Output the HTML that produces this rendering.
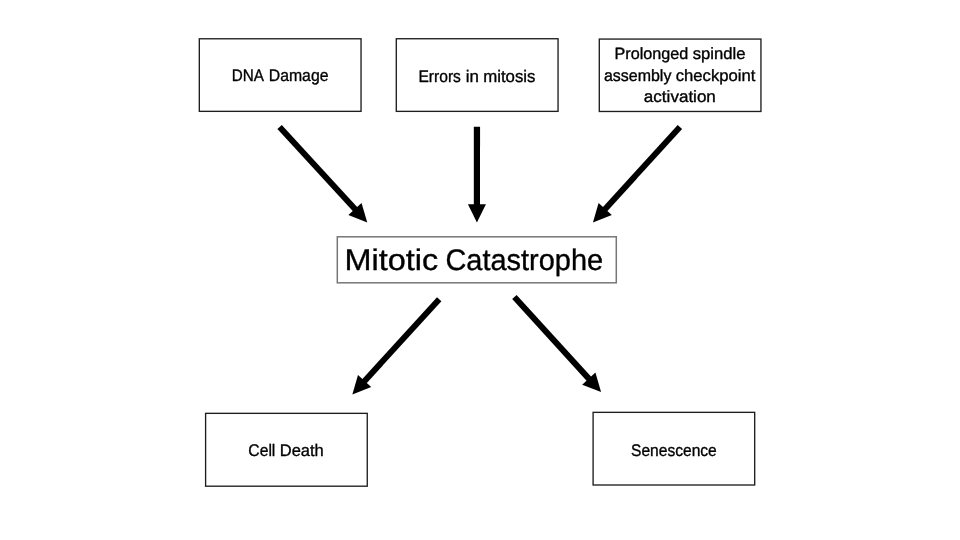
<!DOCTYPE html>
<html><head><meta charset="utf-8"><style>
html,body{margin:0;padding:0;background:#fff;width:960px;height:540px;overflow:hidden}
svg{display:block}
text{font-family:"Liberation Sans",sans-serif;fill:#000;stroke:#000;stroke-width:0.35px;text-rendering:geometricPrecision}
svg{will-change:transform}
</style></head><body>
<svg width="960" height="540" viewBox="0 0 960 540">
<rect x="199.31" y="38.78" width="161.73000000000002" height="72.57" fill="none" stroke="#1e1e1e" stroke-width="1.35"/>
<rect x="396.3" y="38.74" width="161.74999999999994" height="72.63" fill="none" stroke="#1e1e1e" stroke-width="1.35"/>
<rect x="599.3" y="39.07" width="161.6500000000001" height="72.4" fill="none" stroke="#1e1e1e" stroke-width="1.35"/>
<rect x="337.3" y="236.8" width="278.99999999999994" height="46.0" fill="none" stroke="#777" stroke-width="1.5"/>
<rect x="205.6" y="413.35" width="161.66" height="72.84999999999997" fill="none" stroke="#1e1e1e" stroke-width="1.35"/>
<rect x="593.1" y="412.35" width="161.59000000000003" height="72.64999999999998" fill="none" stroke="#1e1e1e" stroke-width="1.35"/>
<polygon points="277.39,129.03 353.42,211.76 357.84,207.70 281.81,124.97" fill="#000"/><polygon points="367.27,222.39 348.36,215.05 361.54,202.93" fill="#000"/>
<polygon points="473.84,126.80 473.82,205.20 480.02,205.20 480.04,126.80" fill="#000"/><polygon points="476.92,222.50 467.92,204.20 485.92,204.20" fill="#000"/>
<polygon points="677.68,124.98 602.30,207.67 606.73,211.71 682.12,129.02" fill="#000"/><polygon points="592.93,222.40 598.58,202.92 611.81,214.98" fill="#000"/>
<polygon points="436.99,297.28 361.72,379.68 366.15,383.72 441.41,301.32" fill="#000"/><polygon points="352.33,394.40 358.00,374.93 371.21,387.00" fill="#000"/>
<polygon points="512.18,299.12 587.26,381.42 591.69,377.37 516.62,295.08" fill="#000"/><polygon points="601.07,392.10 582.19,384.69 595.42,372.62" fill="#000"/>
<text transform="translate(247.83 81) scale(0.9083 1)" text-anchor="middle" font-size="16.8">DNA</text>
<text transform="translate(298.62 81) scale(0.9413 1)" text-anchor="middle" font-size="16.8">Damage</text>
<text transform="translate(439.67 82) scale(0.9291 1)" text-anchor="middle" font-size="16.8">Errors</text>
<text transform="translate(472.39 82) scale(1.0073 1)" text-anchor="middle" font-size="16.8">in</text>
<text transform="translate(509.3 82) scale(1.0017 1)" text-anchor="middle" font-size="16.8">mitosis</text>
<text transform="translate(651.43 59) scale(0.9929 1)" text-anchor="middle" font-size="16.3">Prolonged</text>
<text transform="translate(719.02 59) scale(1.0225 1)" text-anchor="middle" font-size="16.3">spindle</text>
<text transform="translate(637.7 81) scale(0.9801 1)" text-anchor="middle" font-size="16.3">assembly</text>
<text transform="translate(715.57 81) scale(1.0223 1)" text-anchor="middle" font-size="16.3">checkpoint</text>
<text transform="translate(679.86 102) scale(1.0465 1)" text-anchor="middle" font-size="16.3">activation</text>
<text transform="translate(391.39 270) scale(1.0881 1)" text-anchor="middle" font-size="29.8">Mitotic</text>
<text transform="translate(524.26 270) scale(0.9708 1)" text-anchor="middle" font-size="29.8">Catastrophe</text>
<text transform="translate(261.83 456) scale(0.9353 1)" text-anchor="middle" font-size="16.8">Cell</text>
<text transform="translate(301.79 456) scale(0.9826 1)" text-anchor="middle" font-size="16.8">Death</text>
<text transform="translate(673.9 456) scale(0.9285 1)" text-anchor="middle" font-size="16.8">Senescence</text>
</svg>
</body></html>
